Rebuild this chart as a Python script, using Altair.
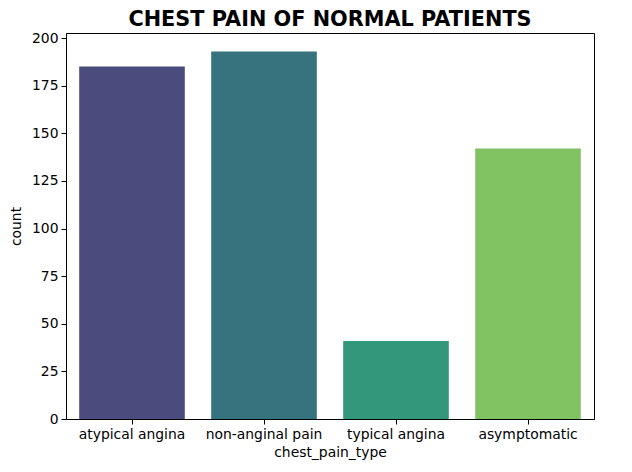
import altair as alt
import pandas as pd

categories = ["atypical angina", "non-anginal pain", "typical angina", "asymptomatic"]
counts = [185, 193, 41, 142]
colors = ["#4a4c7d", "#37727f", "#33977b", "#81c262"]
y_ticks = [0, 25, 50, 75, 100, 125, 150, 175, 200]

df = pd.DataFrame({"chest_pain_type": categories, "count": counts})

font = "DejaVu Sans"

chart = (
    alt.Chart(df)
    .mark_bar()
    .encode(
        x=alt.X(
            "chest_pain_type:N",
            sort=categories,
            scale=alt.Scale(paddingInner=0.2, paddingOuter=0.1),
            axis=alt.Axis(
                title="chest_pain_type",
                labelAngle=0,
                labelFontSize=13.9,
                titleFontSize=13.9,
                labelFont=font,
                titleFont=font,
                titleFontWeight="normal",
                labelColor="black",
                titleColor="black",
                domainColor="black",
                tickColor="black",
                tickSize=5,
                labelPadding=3,
                titlePadding=5,
            ),
        ),
        y=alt.Y(
            "count:Q",
            scale=alt.Scale(domain=[0, 202.65], nice=False),
            axis=alt.Axis(
                title="count",
                values=y_ticks,
                grid=False,
                labelFontSize=13.9,
                titleFontSize=13.9,
                labelFont=font,
                titleFont=font,
                titleFontWeight="normal",
                labelColor="black",
                titleColor="black",
                domainColor="black",
                tickColor="black",
                tickSize=5,
                labelPadding=3,
                titlePadding=8,
            ),
        ),
        color=alt.Color(
            "chest_pain_type:N",
            sort=categories,
            scale=alt.Scale(domain=categories, range=colors),
            legend=None,
        ),
    )
    .properties(
        width=528,
        height=386,
        title=alt.TitleParams(
            "CHEST PAIN OF NORMAL PATIENTS",
            font=font,
            fontSize=20.8,
            fontWeight="bold",
            color="black",
            anchor="middle",
            offset=0,
        ),
        autosize=alt.AutoSizeParams(type="none"),
        padding={"left": 58, "top": 25, "right": 22, "bottom": 45},
    )
    .configure(background="white")
    .configure_view(stroke="black", strokeWidth=1)
)

chart.save("out.html", embed_options={"renderer": "svg", "actions": False})
